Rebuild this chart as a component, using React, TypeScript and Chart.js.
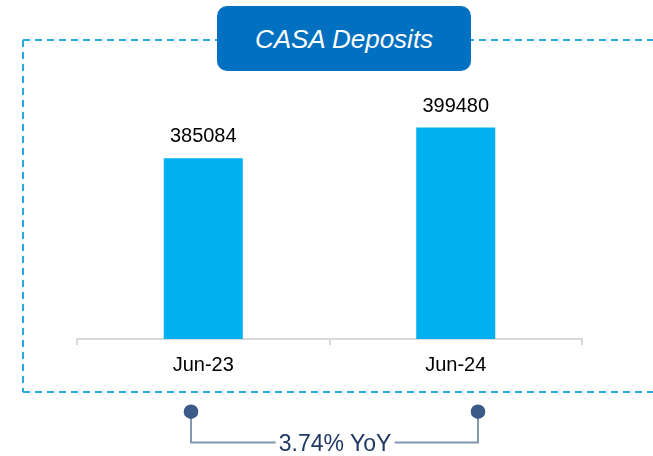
import React, { useEffect, useRef } from "react";
import { Chart, registerables } from "chart.js";

Chart.register(...registerables);

const categories = ["Jun-23", "Jun-24"];
const casaDeposits = [385084, 399480];
const titleText = "CASA Deposits";
const yoyText = "3.74% YoY";
const yMin = 300000;
const yMax = 420000;

const FONT = "'Liberation Sans', Arial, sans-serif";

export default function App() {
  const ref = useRef<HTMLCanvasElement | null>(null);

  useEffect(() => {
    if (!ref.current) return;
    const valueLabels = {
      id: "valueLabels",
      afterDatasetsDraw(chart: any) {
        const ctx = chart.ctx;
        const meta = chart.getDatasetMeta(0);
        ctx.save();
        ctx.font = `20px ${FONT}`;
        ctx.fillStyle = "#000000";
        ctx.textAlign = "center";
        ctx.textBaseline = "middle";
        meta.data.forEach((bar: any, i: number) => {
          ctx.fillText(String(casaDeposits[i]), bar.x, bar.y - 21.5);
        });
        ctx.restore();
      },
    };
    const chart = new Chart(ref.current, {
      type: "bar",
      data: {
        labels: categories,
        datasets: [
          {
            data: casaDeposits,
            backgroundColor: "#00B0F0",
            categoryPercentage: 1,
            barPercentage: 0.313,
          },
        ],
      },
      options: {
        animation: false,
        responsive: false,
        maintainAspectRatio: false,
        layout: { padding: { left: 77, right: 71, top: 84, bottom: 71 } },
        plugins: {
          legend: { display: false },
          tooltip: { enabled: false },
          title: { display: false },
        },
        scales: {
          x: {
            grid: {
              drawOnChartArea: false,
              drawTicks: true,
              tickLength: 6,
              color: "#D9D9D9",
              lineWidth: 2,
            },
            border: { display: true, color: "#D9D9D9", width: 2 },
            ticks: {
              color: "#000000",
              font: { family: FONT, size: 20 },
              padding: 8,
            },
          },
          y: { display: false, min: yMin, max: yMax },
        },
      },
      plugins: [valueLabels],
    } as any);
    return () => chart.destroy();
  }, []);

  return (
    <div
      style={{
        position: "absolute",
        left: 0,
        top: 0,
        width: 653,
        height: 456,
        overflow: "hidden",
        background: "#ffffff",
      }}
    >
      <svg
        width={653}
        height={456}
        style={{ position: "absolute", left: 0, top: 0 }}
      >
        <line x1={23} y1={40} x2={660} y2={40} stroke="#29A9E0" strokeWidth={2} strokeDasharray="7 5" />
        <line x1={23} y1={40} x2={23} y2={392} stroke="#29A9E0" strokeWidth={2} strokeDasharray="7 5" />
        <line x1={23} y1={392} x2={660} y2={392} stroke="#29A9E0" strokeWidth={2} strokeDasharray="7 5" />
        <polyline
          points="191,412 191,442.5 478,442.5 478,412"
          fill="none"
          stroke="#8497B0"
          strokeWidth={2}
        />
        <circle cx={191} cy={411.7} r={7.3} fill="#3B5A88" />
        <circle cx={478} cy={411.7} r={7.3} fill="#3B5A88" />
      </svg>
      <canvas
        ref={ref}
        width={653}
        height={456}
        style={{ position: "absolute", left: 0, top: 0, display: "block" }}
      />
      <div
        style={{
          position: "absolute",
          left: 217,
          top: 6,
          width: 254,
          height: 65,
          borderRadius: 10,
          background: "#0070C0",
          color: "#ffffff",
          display: "flex",
          alignItems: "center",
          justifyContent: "center",
          fontFamily: FONT,
          fontStyle: "italic",
          fontSize: 26,
          lineHeight: 1,
        }}
      >
        {titleText}
      </div>
      <div
        style={{
          position: "absolute",
          left: 335,
          top: 443,
          transform: "translate(-50%, -50%)",
          background: "#ffffff",
          padding: "0 3px",
          color: "#1F3864",
          fontFamily: FONT,
          fontSize: 23,
          lineHeight: 1,
          whiteSpace: "nowrap",
        }}
      >
        {yoyText}
      </div>
    </div>
  );
}
